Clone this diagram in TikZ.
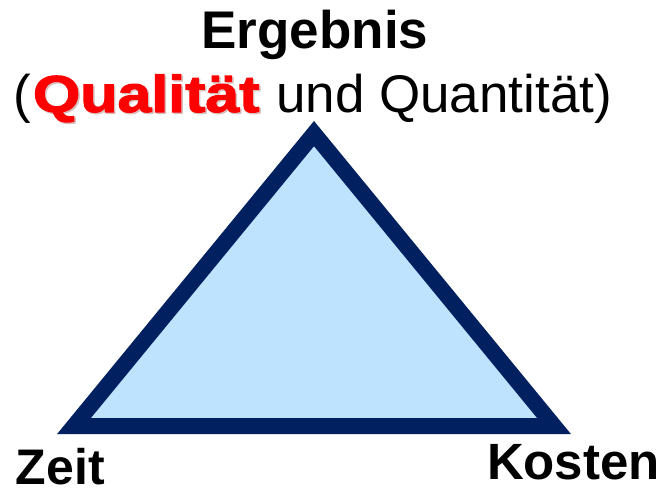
\documentclass[tikz,border=0pt]{standalone}
\usepackage{fontspec}
\setmainfont{Liberation Sans}
\newfontfamily\qfont[FakeBold=2]{Liberation Sans Bold}
\usetikzlibrary{calc}
\definecolor{navy}{HTML}{002060}
\definecolor{lightfill}{HTML}{BDE3FE}
\definecolor{qred}{HTML}{FF0000}
\definecolor{qshadow}{HTML}{D9C0C0}
\tikzset{
  lbl/.style={inner sep=0pt, outer sep=0pt, anchor=base west},
  tri/.style={draw=navy, fill=lightfill, line width=16pt, line join=miter}
}
\begin{document}
\begin{tikzpicture}[x=1pt, y=-1pt]
  \useasboundingbox (0,0) rectangle (667,495);
  % triangle corners
  \coordinate (top) at (314,133.6);
  \coordinate (bl) at (74,426);
  \coordinate (br) at (554,426);
  \draw[tri] (top) -- (br) -- (bl) -- cycle;
  % top labels
  \node[lbl, anchor=base] (erg) at (315,49) {\fontsize{53}{60}\selectfont\bfseries Ergebnis};
  \node[lbl] (lp) at (13,112) {\fontsize{53}{60}\selectfont (};
  \node[lbl, text=qshadow] (qsh) at (34.5,113.5) {\scalebox{1.17}[1]{\fontsize{52}{60}\qfont Qualität}};
  \node[lbl, text=qred] (qual) at (33,112) {\scalebox{1.17}[1]{\fontsize{52}{60}\qfont Qualität}};
  \node[lbl, anchor=base east] (rest) at (612,112) {\fontsize{53}{60}\selectfont und Quantität)};
  % corner labels
  \node[lbl] (zeit) at (16,484) {\fontsize{50}{60}\selectfont\bfseries Zeit};
  \node[lbl] (kosten) at (487,479) {\fontsize{51}{60}\selectfont\bfseries Kosten};
\end{tikzpicture}
\end{document}
